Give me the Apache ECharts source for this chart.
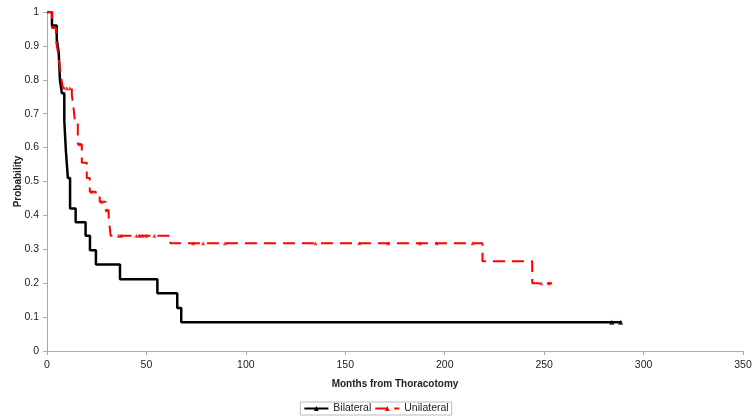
<!DOCTYPE html>
<html>
<head>
<meta charset="utf-8">
<script src="https://cdn.jsdelivr.net/npm/echarts@6/dist/echarts.min.js"></script>
<style>
  html, body { margin: 0; padding: 0; background: #fff; }
  #main { width: 752px; height: 419px; }
</style>
</head>
<body>
<div id="main"></div>
<script>
// Kaplan-Meier steps: [month, probability] - drop happens at the month
var bilateralSteps = [
  [0, 1], [2.5, 0.96], [4.9, 0.92], [5.9, 0.88], [6.5, 0.80], [7.5, 0.76],
  [8.7, 0.68], [9.5, 0.59], [10.5, 0.51], [11.6, 0.42], [14.4, 0.38],
  [19.4, 0.34], [21.6, 0.297], [24.6, 0.255], [36.7, 0.212], [55.5, 0.17],
  [65.5, 0.127], [67.5, 0.085], [289, 0.085]
];
var bilateralCensored = [[284, 0.085], [288.5, 0.085]];

var unilateralSteps = [
  [0, 1], [2.5, 0.953], [4.5, 0.917], [5.5, 0.88], [6.3, 0.845], [7, 0.81],
  [8, 0.775], [12.5, 0.755], [13.3, 0.72], [14, 0.68], [15.5, 0.61],
  [17.5, 0.555], [20, 0.51], [21.5, 0.47], [24.5, 0.46], [26.5, 0.44],
  [29.5, 0.415], [31, 0.395], [32, 0.34], [62, 0.318], [219, 0.265],
  [244, 0.2], [254, 0.2]
];
var unilateralCensored = [
  [10, 0.775], [11.5, 0.775], [16.5, 0.61], [22.5, 0.47], [27.5, 0.44], [30, 0.415],
  [36, 0.34], [37.3, 0.34], [45, 0.34], [46.5, 0.34], [48, 0.34], [50, 0.34], [54, 0.34],
  [73.5, 0.318], [78.5, 0.318], [89.5, 0.318], [135, 0.318], [157, 0.318],
  [171.5, 0.318], [187.5, 0.318], [196, 0.318], [214, 0.318],
  [248.5, 0.2], [252.5, 0.2]
];

var seriesNames = ['Bilateral', 'Unilateral'];
var seriesColors = ['#000000', '#ff0000'];

var myChart = echarts.init(document.getElementById('main'));
var font = '"Liberation Sans", Arial, sans-serif';

myChart.setOption({
  animation: false,
  textStyle: { fontFamily: font },
  grid: { left: 47, right: 9, top: 12, bottom: 68, outerBoundsMode: 'none' },
  legend: {
    data: seriesNames,
    bottom: 4,
    left: 'center',
    itemWidth: 24,
    itemHeight: 6,
    itemGap: 3,
    padding: [1, 3],
    borderColor: '#bbb',
    borderWidth: 1,
    textStyle: { fontSize: 10.5, color: '#222', fontFamily: font }
  },
  xAxis: {
    type: 'value',
    min: 0, max: 350, interval: 50,
    name: 'Months from Thoracotomy',
    nameLocation: 'middle',
    nameGap: 28,
    nameTextStyle: { fontWeight: 'bold', fontSize: 10, color: '#222' },
    axisLine: { lineStyle: { color: '#aaa' } },
    axisTick: { show: true, length: 4, lineStyle: { color: '#aaa' } },
    axisLabel: { fontSize: 10.5, color: '#222', margin: 9 },
    splitLine: { show: false }
  },
  yAxis: {
    type: 'value',
    min: 0, max: 1, interval: 0.1,
    name: 'Probability',
    nameLocation: 'middle',
    nameGap: 24,
    nameMoveOverlap: false,
    nameTextStyle: { fontWeight: 'bold', fontSize: 10, color: '#222' },
    axisLine: { show: true, lineStyle: { color: '#aaa' } },
    axisTick: { show: true, length: 4, lineStyle: { color: '#aaa' } },
    axisLabel: { fontSize: 10.5, color: '#222', margin: 8 },
    splitLine: { show: false }
  },
  series: [
    {
      name: seriesNames[0], type: 'line', step: 'end',
      data: bilateralSteps,
      symbol: 'triangle', symbolSize: 5, showSymbol: false,
      color: seriesColors[0],
      lineStyle: { width: 2.5, color: seriesColors[0] }
    },
    {
      name: seriesNames[0], type: 'scatter',
      data: bilateralCensored,
      symbol: 'triangle', symbolSize: 5,
      itemStyle: { color: seriesColors[0] }
    },
    {
      name: seriesNames[1], type: 'line', step: 'end',
      data: unilateralSteps,
      symbol: 'triangle', symbolSize: 5, showSymbol: false,
      color: seriesColors[1],
      lineStyle: { width: 2, color: seriesColors[1], type: [12, 7] }
    },
    {
      name: seriesNames[1], type: 'scatter',
      data: unilateralCensored,
      symbol: 'triangle', symbolSize: 4,
      itemStyle: { color: seriesColors[1] }
    }
  ]
});
</script>
</body>
</html>
